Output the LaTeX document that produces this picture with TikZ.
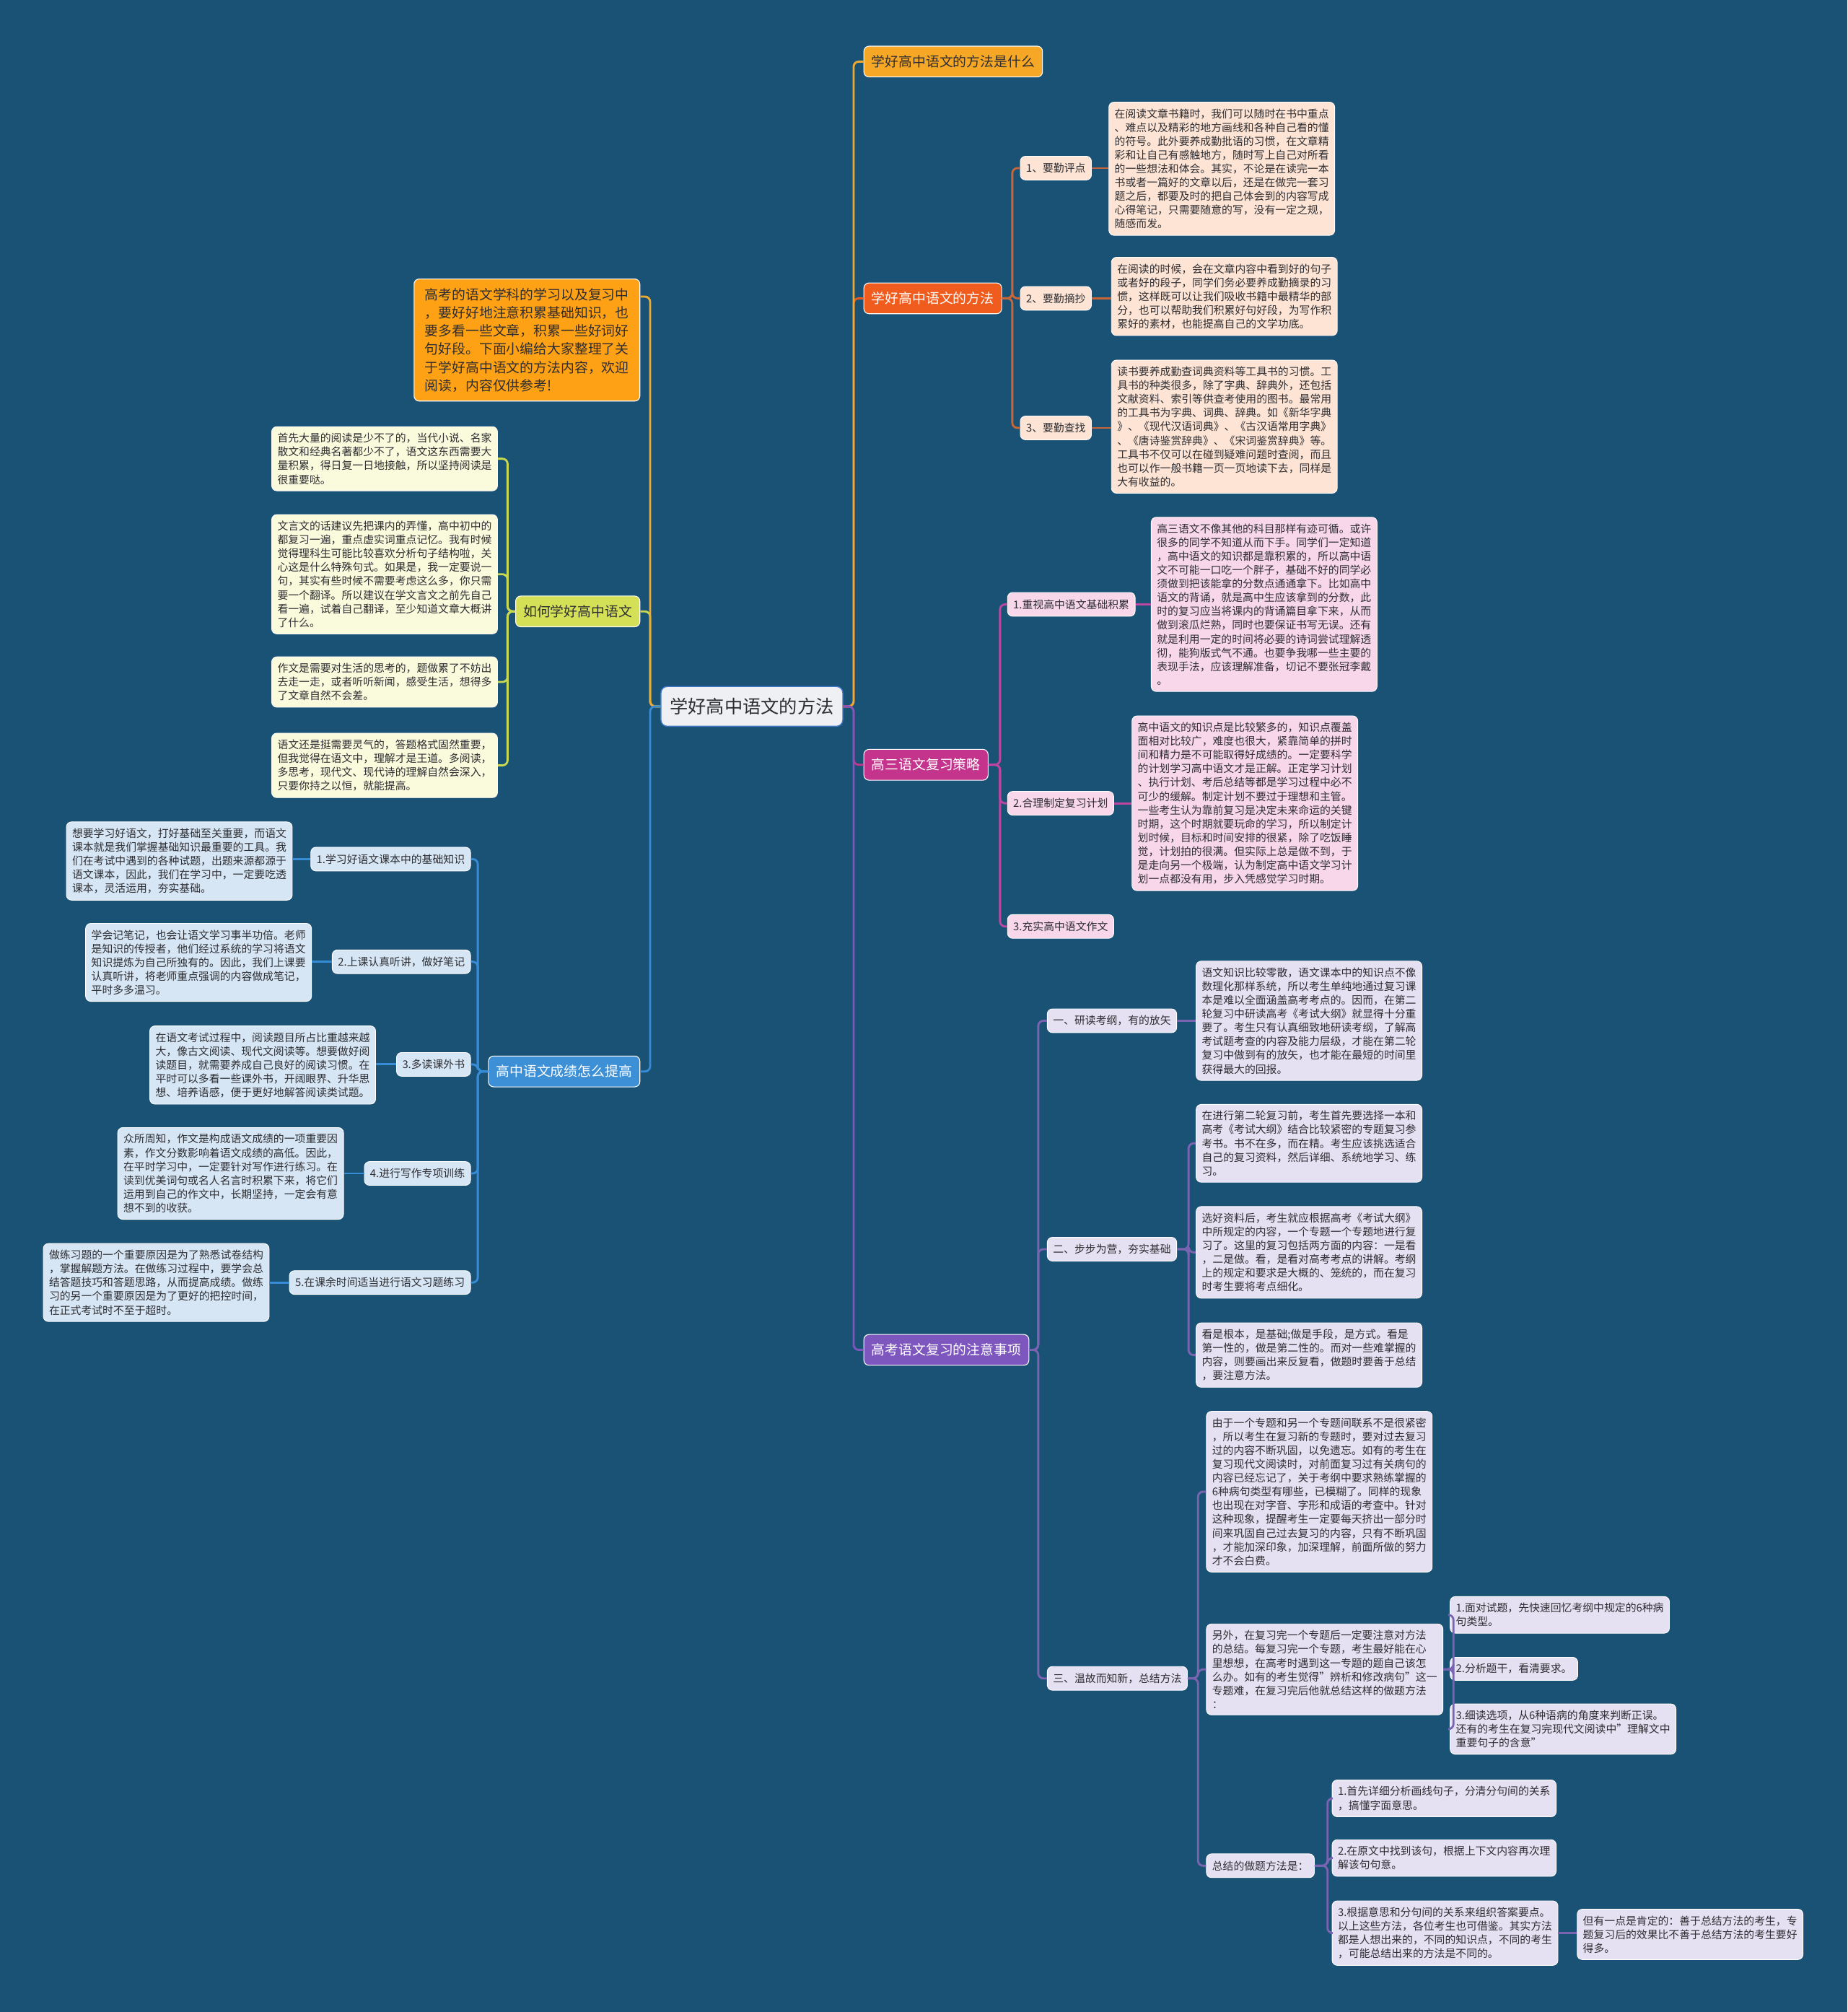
\documentclass[tikz,border=0pt]{standalone}
\usepackage{fontspec}
\setmainfont{Noto Sans CJK SC}
\definecolor{bg}{RGB}{26,82,118}
\definecolor{txtdark}{RGB}{45,45,50}
\definecolor{rootfill}{RGB}{238,240,243}
\definecolor{rootborder}{RGB}{62,122,200}
\definecolor{cGold}{RGB}{247,167,38}
\definecolor{cOrRed}{RGB}{240,92,30}
\definecolor{cMag}{RGB}{196,52,140}
\definecolor{cPur}{RGB}{126,87,190}
\definecolor{cIntro}{RGB}{255,161,20}
\definecolor{cYG}{RGB}{212,225,87}
\definecolor{cBlue}{RGB}{61,143,214}
\definecolor{lGold}{RGB}{235,170,50}
\definecolor{lOrRed}{RGB}{200,102,55}
\definecolor{lMag}{RGB}{190,70,160}
\definecolor{lPur}{RGB}{122,100,178}
\definecolor{lYG}{RGB}{200,216,80}
\definecolor{lBlue}{RGB}{55,140,215}
\definecolor{fPeach}{RGB}{253,228,212}
\definecolor{fPink}{RGB}{248,215,234}
\definecolor{fLav}{RGB}{230,225,242}
\definecolor{fCream}{RGB}{250,250,220}
\definecolor{fLBlue}{RGB}{214,230,245}
\tikzset{
  conn/.style={line width=1.6pt, rounded corners=4pt},
  leaf/.style={rounded corners=4pt, align=left, inner xsep=4.5pt, inner ysep=5pt,
    font=\fontsize{8.35}{10.75}\selectfont, text=txtdark, draw=white, line width=0.5pt},
  lbl/.style={rounded corners=4pt, inner xsep=4.5pt, inner ysep=2pt, minimum height=18.5pt,
    font=\fontsize{8.35}{10}\selectfont, text=txtdark, draw=white, line width=0.5pt},
  mainb/.style={rounded corners=4pt, inner xsep=6pt, inner ysep=3pt, minimum height=24pt,
    font=\fontsize{10.6}{12}\selectfont, draw=white, line width=0.6pt},
  rootn/.style={rounded corners=5pt, fill=rootfill, draw=rootborder, line width=0.8pt,
    minimum height=31pt, inner xsep=7pt, font=\fontsize{14.2}{16}\selectfont, text=txtdark}
}
\begin{document}
\begin{tikzpicture}[x=1pt,y=-1pt]
\fill[bg] (0,0) rectangle (1440,1568);
\useasboundingbox (0,0) rectangle (1440,1568);

% root
\node[rootn] (root) at (586,550.5) {学好高中语文的方法};

% right main branches
\node[mainb, fill=cGold, text=txtdark, anchor=west] (t1) at (673,48) {学好高中语文的方法是什么};
\node[mainb, fill=cOrRed, text=white, anchor=west] (t2) at (673,232.5) {学好高中语文的方法};
\node[mainb, fill=cMag, text=white, anchor=west] (t3) at (673,596) {高三语文复习策略};
\node[mainb, fill=cPur, text=white, anchor=west] (t4) at (673,1052) {高考语文复习的注意事项};

% left main branches
\node[mainb, fill=cIntro, text=txtdark, anchor=east, align=left, inner xsep=8.5pt, inner ysep=7pt,
  font=\fontsize{10.6}{14.2}\selectfont] (intro) at (499,265) {高考的语文学科的学习以及复习中\\，要好好地注意积累基础知识，也\\要多看一些文章，积累一些好词好\\句好段。下面小编给大家整理了关\\于学好高中语文的方法内容，欢迎\\阅读，内容仅供参考!};
\node[mainb, fill=cYG, text=txtdark, anchor=east] (L2) at (499,476.5) {如何学好高中语文};
\node[mainb, fill=cBlue, text=white, anchor=east] (L3) at (499,835) {高中语文成绩怎么提高};

% branch t2 children
\node[lbl, fill=fPeach, anchor=west] (a1) at (795,131) {1、要勤评点};
\node[lbl, fill=fPeach, anchor=west] (a2) at (795,232.5) {2、要勤摘抄};
\node[lbl, fill=fPeach, anchor=west] (a3) at (795,333.5) {3、要勤查找};
\node[leaf, fill=fPeach, anchor=west] (a1t) at (864,131.5) {在阅读文章书籍时，我们可以随时在书中重点\\、难点以及精彩的地方画线和各种自己看的懂\\的符号。此外要养成勤批语的习惯，在文章精\\彩和让自己有感触地方，随时写上自己对所看\\的一些想法和体会。其实，不论是在读完一本\\书或者一篇好的文章以后，还是在做完一套习\\题之后，都要及时的把自己体会到的内容写成\\心得笔记，只需要随意的写，没有一定之规，\\随感而发。};
\node[leaf, fill=fPeach, anchor=west] (a2t) at (866,231) {在阅读的时候，会在文章内容中看到好的句子\\或者好的段子，同学们务必要养成勤摘录的习\\惯，这样既可以让我们吸收书籍中最精华的部\\分，也可以帮助我们积累好句好段，为写作积\\累好的素材，也能提高自己的文学功底。};
\node[leaf, fill=fPeach, anchor=west] (a3t) at (866,332.5) {读书要养成勤查词典资料等工具书的习惯。工\\具书的种类很多，除了字典、辞典外，还包括\\文献资料、索引等供查考使用的图书。最常用\\的工具书为字典、词典、辞典。如《新华字典\\》、《现代汉语词典》、《古汉语常用字典》\\、《唐诗鉴赏辞典》、《宋词鉴赏辞典》等。\\工具书不仅可以在碰到疑难问题时查阅，而且\\也可以作一般书籍一页一页地读下去，同样是\\大有收益的。};

% branch t3 children
\node[lbl, fill=fPink, anchor=west] (b1) at (785,471) {1.重视高中语文基础积累};
\node[lbl, fill=fPink, anchor=west] (b2) at (785,626) {2.合理制定复习计划};
\node[lbl, fill=fPink, anchor=west] (b3) at (785,722) {3.充实高中语文作文};
\node[leaf, fill=fPink, anchor=west] (b1t) at (897,471) {高三语文不像其他的科目那样有迹可循。或许\\很多的同学不知道从而下手。同学们一定知道\\，高中语文的知识都是靠积累的，所以高中语\\文不可能一口吃一个胖子，基础不好的同学必\\须做到把该能拿的分数点通通拿下。比如高中\\语文的背诵，就是高中生应该拿到的分数，此\\时的复习应当将课内的背诵篇目拿下来，从而\\做到滚瓜烂熟，同时也要保证书写无误。还有\\就是利用一定的时间将必要的诗词尝试理解透\\彻，能狗版式气不通。也要争我哪一些主要的\\表现手法，应该理解准备，切记不要张冠李戴\\。};
\node[leaf, fill=fPink, anchor=west] (b2t) at (882,626) {高中语文的知识点是比较繁多的，知识点覆盖\\面相对比较广，难度也很大，紧靠简单的拼时\\间和精力是不可能取得好成绩的。一定要科学\\的计划学习高中语文才是正解。正定学习计划\\、执行计划、考后总结等都是学习过程中必不\\可少的缓解。制定计划不要过于理想和主管。\\一些考生认为靠前复习是决定未来命运的关键\\时期，这个时期就要玩命的学习，所以制定计\\划时候，目标和时间安排的很紧，除了吃饭睡\\觉，计划拍的很满。但实际上总是做不到，于\\是走向另一个极端，认为制定高中语文学习计\\划一点都没有用，步入凭感觉学习时期。};

% branch t4 children
\node[lbl, fill=fLav, anchor=west] (c1) at (816,795.5) {一、研读考纲，有的放矢};
\node[lbl, fill=fLav, anchor=west] (c2) at (816,973.5) {二、步步为营，夯实基础};
\node[lbl, fill=fLav, anchor=west] (c3) at (816,1308) {三、温故而知新，总结方法};
\node[leaf, fill=fLav, anchor=west] (c1t) at (932,795.5) {语文知识比较零散，语文课本中的知识点不像\\数理化那样系统，所以考生单纯地通过复习课\\本是难以全面涵盖高考考点的。因而，在第二\\轮复习中研读高考《考试大纲》就显得十分重\\要了。考生只有认真细致地研读考纲，了解高\\考试题考查的内容及能力层级，才能在第二轮\\复习中做到有的放矢，也才能在最短的时间里\\获得最大的回报。};
\node[leaf, fill=fLav, anchor=west] (c2a) at (932,891) {在进行第二轮复习前，考生首先要选择一本和\\高考《考试大纲》结合比较紧密的专题复习参\\考书。书不在多，而在精。考生应该挑选适合\\自己的复习资料，然后详细、系统地学习、练\\习。};
\node[leaf, fill=fLav, anchor=west] (c2b) at (932,976) {选好资料后，考生就应根据高考《考试大纲》\\中所规定的内容，一个专题一个专题地进行复\\习了。这里的复习包括两方面的内容：一是看\\，二是做。看，是看对高考考点的讲解。考纲\\上的规定和要求是大概的、笼统的，而在复习\\时考生要将考点细化。};
\node[leaf, fill=fLav, anchor=west] (c2c) at (932,1056) {看是根本，是基础;做是手段，是方式。看是\\第一性的，做是第二性的。而对一些难掌握的\\内容，则要画出来反复看，做题时要善于总结\\，要注意方法。};
\node[leaf, fill=fLav, anchor=west] (c3a) at (940,1162.5) {由于一个专题和另一个专题间联系不是很紧密\\，所以考生在复习新的专题时，要对过去复习\\过的内容不断巩固，以免遗忘。如有的考生在\\复习现代文阅读时，对前面复习过有关病句的\\内容已经忘记了，关于考纲中要求熟练掌握的\\6种病句类型有哪些，已模糊了。同样的现象\\也出现在对字音、字形和成语的考查中。针对\\这种现象，提醒考生一定要每天挤出一部分时\\间来巩固自己过去复习的内容，只有不断巩固\\，才能加深印象，加深理解，前面所做的努力\\才不会白费。};
\node[leaf, fill=fLav, anchor=west] (c3b) at (940,1301) {另外，在复习完一个专题后一定要注意对方法\\的总结。每复习完一个专题，考生最好能在心\\里想想，在高考时遇到这一专题的题自己该怎\\么办。如有的考生觉得"辨析和修改病句"这一\\专题难，在复习完后他就总结这样的做题方法\\：};
\node[lbl, fill=fLav, anchor=west] (c3c) at (940,1454) {总结的做题方法是：};
\node[leaf, fill=fLav, anchor=west] (s1) at (1130,1258.5) {1.面对试题，先快速回忆考纲中规定的6种病\\句类型。};
\node[leaf, fill=fLav, anchor=west] (s2) at (1130,1300.5) {2.分析题干，看清要求。};
\node[leaf, fill=fLav, anchor=west] (s3) at (1130,1347.5) {3.细读选项，从6种语病的角度来判断正误。\\还有的考生在复习完现代文阅读中"理解文中\\重要句子的含意"};
\node[leaf, fill=fLav, anchor=west] (e1) at (1038,1401.5) {1.首先详细分析画线句子，分清分句间的关系\\，搞懂字面意思。};
\node[leaf, fill=fLav, anchor=west] (e2) at (1038,1448) {2.在原文中找到该句，根据上下文内容再次理\\解该句句意。};
\node[leaf, fill=fLav, anchor=west] (e3) at (1038,1506.5) {3.根据意思和分句间的关系来组织答案要点。\\以上这些方法，各位考生也可借鉴。其实方法\\都是人想出来的，不同的知识点，不同的考生\\，可能总结出来的方法是不同的。};
\node[leaf, fill=fLav, anchor=west] (e4) at (1229,1507.5) {但有一点是肯定的：善于总结方法的考生，专\\题复习后的效果比不善于总结方法的考生要好\\得多。};

% L2 children
\node[leaf, fill=fCream, anchor=east] (g1) at (388,357.5) {首先大量的阅读是少不了的，当代小说、名家\\散文和经典名著都少不了，语文这东西需要大\\量积累，得日复一日地接触，所以坚持阅读是\\很重要哒。};
\node[leaf, fill=fCream, anchor=east] (g2) at (388,447.5) {文言文的话建议先把课内的弄懂，高中初中的\\都复习一遍，重点虚实词重点记忆。我有时候\\觉得理科生可能比较喜欢分析句子结构啦，关\\心这是什么特殊句式。如果是，我一定要说一\\句，其实有些时候不需要考虑这么多，你只需\\要一个翻译。所以建议在学文言文之前先自己\\看一遍，试着自己翻译，至少知道文章大概讲\\了什么。};
\node[leaf, fill=fCream, anchor=east] (g3) at (388,531.5) {作文是需要对生活的思考的，题做累了不妨出\\去走一走，或者听听新闻，感受生活，想得多\\了文章自然不会差。};
\node[leaf, fill=fCream, anchor=east] (g4) at (388,596.5) {语文还是挺需要灵气的，答题格式固然重要，\\但我觉得在语文中，理解才是王道。多阅读，\\多思考，现代文、现代诗的理解自然会深入，\\只要你持之以恒，就能提高。};

% L3 children
\node[lbl, fill=fLBlue, anchor=east] (d1) at (367,669.5) {1.学习好语文课本中的基础知识};
\node[lbl, fill=fLBlue, anchor=east] (d2) at (367,749.5) {2.上课认真听讲，做好笔记};
\node[lbl, fill=fLBlue, anchor=east] (d3) at (367,829.5) {3.多读课外书};
\node[lbl, fill=fLBlue, anchor=east] (d4) at (367,914.5) {4.进行写作专项训练};
\node[lbl, fill=fLBlue, anchor=east] (d5) at (367,999.5) {5.在课余时间适当进行语文习题练习};
\node[leaf, fill=fLBlue, anchor=east] (d1t) at (228,671) {想要学习好语文，打好基础至关重要，而语文\\课本就是我们掌握基础知识最重要的工具。我\\们在考试中遇到的各种试题，出题来源都源于\\语文课本，因此，我们在学习中，一定要吃透\\课本，灵活运用，夯实基础。};
\node[leaf, fill=fLBlue, anchor=east] (d2t) at (243,750) {学会记笔记，也会让语文学习事半功倍。老师\\是知识的传授者，他们经过系统的学习将语文\\知识提炼为自己所独有的。因此，我们上课要\\认真听讲，将老师重点强调的内容做成笔记，\\平时多多温习。};
\node[leaf, fill=fLBlue, anchor=east] (d3t) at (293,830) {在语文考试过程中，阅读题目所占比重越来越\\大，像古文阅读、现代文阅读等。想要做好阅\\读题目，就需要养成自己良好的阅读习惯。在\\平时可以多看一些课外书，开阔眼界、升华思\\想、培养语感，便于更好地解答阅读类试题。};
\node[leaf, fill=fLBlue, anchor=east] (d4t) at (268,914.5) {众所周知，作文是构成语文成绩的一项重要因\\素，作文分数影响着语文成绩的高低。因此，\\在平时学习中，一定要针对写作进行练习。在\\读到优美词句或名人名言时积累下来，将它们\\运用到自己的作文中，长期坚持，一定会有意\\想不到的收获。};
\node[leaf, fill=fLBlue, anchor=east] (d5t) at (210,999.5) {做练习题的一个重要原因是为了熟悉试卷结构\\，掌握解题方法。在做练习过程中，要学会总\\结答题技巧和答题思路，从而提高成绩。做练\\习的另一个重要原因是为了更好的把控时间，\\在正式考试时不至于超时。};

% ---------- connectors ----------
% root to right
\draw[conn, cOrRed] (root.east) -- ++(8,0) |- (t2.west);
\draw[conn, lGold] (root.east) -- ++(8,0) |- (t1.west);
\draw[conn, cMag] (root.east) -- ++(8,0) |- (t3.west);
\draw[conn, cPur] (root.east) -- ++(8,0) |- (t4.west);
% root to left
\draw[conn, lYG] (root.west) -- ++(-8,0) |- (L2.east);
\draw[conn, lGold] (root.west) -- ++(-8,0) |- ([yshift=-14pt]intro.north east);
\draw[conn, lBlue] (root.west) -- ++(-8,0) |- (L3.east);

% t2
\foreach \n in {a1,a2,a3} {
  \draw[conn, lOrRed] (t2.east) -- ++(8,0) |- (\n.west);
  \draw[conn, lOrRed] (\n.east) -- (\n.east -| \n t.west);
}
% t3
\foreach \n in {b1,b2,b3} {
  \draw[conn, lMag] (t3.east) -- ++(9,0) |- (\n.west);
}
\draw[conn, lMag] (b1.east) -- (b1.east -| b1t.west);
\draw[conn, lMag] (b2.east) -- (b2.east -| b2t.west);
% t4
\foreach \n in {c1,c2,c3} {
  \draw[conn, lPur] (t4.east) -- ++(7,0) |- (\n.west);
}
\draw[conn, lPur] (c1.east) -- (c1.east -| c1t.west);
\foreach \n in {c2a,c2b,c2c} {
  \draw[conn, lPur] (c2.east) -- ++(9,0) |- (\n.west);
}
\foreach \n in {c3a,c3b,c3c} {
  \draw[conn, lPur] (c3.east) -- ++(8,0) |- (\n.west);
}
\foreach \n in {s1,s2,s3} {
  \draw[conn, lPur] (c3b.east) -- ++(8,0) |- (\n.west);
}
\foreach \n in {e1,e2,e3} {
  \draw[conn, lPur] (c3c.east) -- ++(10,0) |- (\n.west);
}
\draw[conn, lPur] (e3.east) -- (e3.east -| e4.west);

% L2
\foreach \n in {g1,g2,g3,g4} {
  \draw[conn, lYG] (L2.west) -- ++(-6,0) |- (\n.east);
}
% L3
\foreach \n in {d1,d2,d3,d4,d5} {
  \draw[conn, lBlue] (L3.west) -- ++(-8,0) |- (\n.east);
  \draw[conn, lBlue] (\n.west) -- (\n.west -| \n t.east);
}
\end{tikzpicture}
\end{document}
